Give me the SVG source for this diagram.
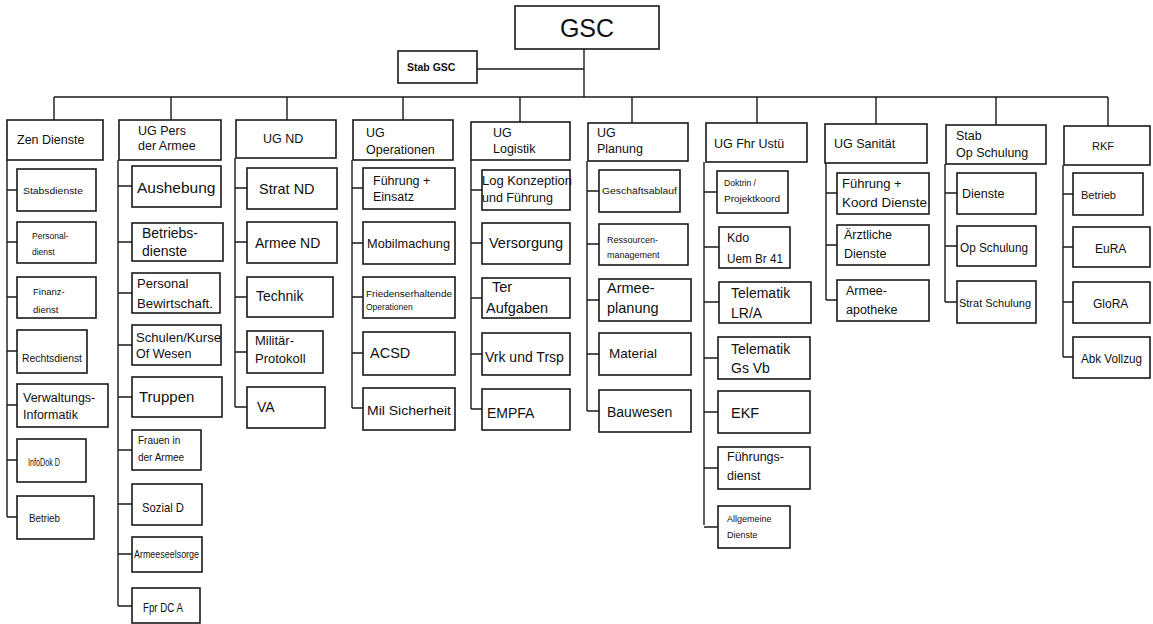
<svg xmlns="http://www.w3.org/2000/svg" width="1153" height="624" viewBox="0 0 1153 624">
<style>
rect{fill:#fff;stroke:#1a1a1a;stroke-width:1.6}
#connectors path{fill:none;stroke:#1a1a1a;stroke-width:1.4}
text{font-family:"Liberation Sans",Arial,sans-serif;fill:#111;font-size:12.5px}
.b{font-size:14.5px}
.s{font-size:9.5px}
</style>
<rect x="0" y="0" width="1153" height="624" style="stroke:none;fill:#fff"/>
<g id="connectors">
<path d="M584 49V97M477 69H584M54 97H1108"/>
<path d="M54 97V120M171 97V120M287 97V120M403 97V120M520 97V122M632 97V123M757 97V123M876 97V124M996 97V125M1108 97V126"/>
<path d="M7 160V517M7 190H17M7 242H17M7 297H17M7 351H17M7 405H17M7 460H17M7 517H17"/>
<path d="M118 160V606M118 186H132M118 242H132M118 293H132M118 345H132M118 397H132M118 450H132M118 504H132M118 554H132M118 606H132"/>
<path d="M235 158V407M235 188H247M235 242H247M235 297H247M235 352H247M235 407H247"/>
<path d="M352 160V408M352 188H363M352 243H363M352 297H363M352 353H363M352 408H363"/>
<path d="M471 160V409M471 190H482M471 243H482M471 298H482M471 354H482M471 409H482"/>
<path d="M587 161V411M587 191H599M587 244H599M587 300H599M587 354H599M587 411H599"/>
<path d="M704 162V525M704 192H717M704 247H719M704 302H719M704 358H718M704 412H718M704 468H718M704 527H718"/>
<path d="M826 163V300M826 193H837M826 245H837M826 300H837"/>
<path d="M945 164V302M945 193H957M945 246H957M945 302H957"/>
<path d="M1063 165V357M1063 194H1073M1063 247H1073M1063 302H1073M1063 357H1073"/>
</g>
<g id="gsc"><rect x="515" y="6" width="144" height="43"/><text x="587" y="37" text-anchor="middle" style="font-size:25px">GSC</text></g>
<g id="stab-gsc"><rect x="398" y="51" width="79" height="32"/><text x="407" y="71" style="font-size:10.5px;font-weight:bold">Stab GSC</text></g>

<g id="zen-dienste"><rect x="7" y="120" width="96" height="40"/><text x="17" y="144">Zen Dienste</text></g>
<g id="stabsdienste"><rect x="17" y="169" width="79" height="42"/><text x="23" y="194" class="s" textLength="60" lengthAdjust="spacingAndGlyphs">Stabsdienste</text></g>
<g id="personaldienst"><rect x="17" y="222" width="79" height="41"/><text x="32" y="239" style="font-size:8.5px">Personal-</text><text x="32" y="255" style="font-size:8.5px">dienst</text></g>
<g id="finanzdienst"><rect x="17" y="277" width="79" height="41"/><text x="33" y="295" style="font-size:9.5px">Finanz-</text><text x="33" y="313" style="font-size:9.5px">dienst</text></g>
<g id="rechtsdienst"><rect x="17" y="330" width="70" height="43"/><text x="22" y="362" style="font-size:11px" textLength="60" lengthAdjust="spacingAndGlyphs">Rechtsdienst</text></g>
<g id="verwaltungsinformatik"><rect x="17" y="384" width="91" height="43"/><text x="23" y="402">Verwaltungs-</text><text x="23" y="419">Informatik</text></g>
<g id="infodok"><rect x="17" y="439" width="69" height="43"/><text x="28" y="466" style="font-size:10px" textLength="32" lengthAdjust="spacingAndGlyphs">InfoDok D</text></g>
<g id="betrieb-zd"><rect x="17" y="496" width="77" height="43"/><text x="29" y="522" style="font-size:10.5px" textLength="31" lengthAdjust="spacingAndGlyphs">Betrieb</text></g>

<g id="ug-pers"><rect x="119" y="120" width="102" height="40"/><text x="138" y="135">UG Pers</text><text x="138" y="150">der Armee</text></g>
<g id="aushebung"><rect x="132" y="166" width="89" height="41"/><text x="137" y="193" style="font-size:15.5px">Aushebung</text></g>
<g id="betriebsdienste"><rect x="132" y="223" width="91" height="38"/><text x="142" y="238" style="font-size:14px">Betriebs-</text><text x="142" y="256" style="font-size:14px">dienste</text></g>
<g id="personal-bew"><rect x="132" y="273" width="88" height="40"/><text x="137" y="288" style="font-size:13px">Personal</text><text x="137" y="308" style="font-size:13px" textLength="76" lengthAdjust="spacingAndGlyphs">Bewirtschaft.</text></g>
<g id="schulen"><rect x="132" y="325" width="89" height="40"/><text x="136" y="342" textLength="85" lengthAdjust="spacingAndGlyphs">Schulen/Kurse</text><text x="136" y="358">Of Wesen</text></g>
<g id="truppen"><rect x="132" y="377" width="90" height="40"/><text x="139" y="402" style="font-size:15px">Truppen</text></g>
<g id="frauen"><rect x="132" y="430" width="69" height="40"/><text x="138" y="444" style="font-size:10px">Frauen in</text><text x="138" y="461" style="font-size:10px">der Armee</text></g>
<g id="sozial"><rect x="132" y="484" width="70" height="41"/><text x="142" y="512" style="font-size:13px" textLength="42" lengthAdjust="spacingAndGlyphs">Sozial D</text></g>
<g id="armeeseelsorge"><rect x="132" y="537" width="70" height="35"/><text x="134" y="558" style="font-size:10.5px" textLength="65" lengthAdjust="spacingAndGlyphs">Armeeseelsorge</text></g>
<g id="fpr"><rect x="132" y="588" width="68" height="35"/><text x="143" y="612" style="font-size:12px" textLength="40" lengthAdjust="spacingAndGlyphs">Fpr DC A</text></g>

<g id="ug-nd"><rect x="236" y="120" width="100" height="38"/><text x="263" y="143">UG ND</text></g>
<g id="strat-nd"><rect x="247" y="168" width="90" height="41"/><text x="259" y="194" class="b">Strat ND</text></g>
<g id="armee-nd"><rect x="247" y="222" width="90" height="41"/><text x="255" y="248" style="font-size:14px">Armee ND</text></g>
<g id="technik"><rect x="247" y="277" width="86" height="40"/><text x="256" y="301" style="font-size:14px">Technik</text></g>
<g id="protokoll"><rect x="247" y="331" width="76" height="42"/><text x="255" y="345" style="font-size:13px">Militär-</text><text x="255" y="363" style="font-size:13px">Protokoll</text></g>
<g id="va"><rect x="247" y="387" width="78" height="41"/><text x="257" y="412" style="font-size:14px">VA</text></g>

<g id="ug-op"><rect x="353" y="120" width="100" height="40"/><text x="366" y="137">UG</text><text x="366" y="154">Operationen</text></g>
<g id="fuehrung-einsatz"><rect x="363" y="168" width="92" height="41"/><text x="373" y="185">Führung +</text><text x="373" y="201">Einsatz</text></g>
<g id="mobilmachung"><rect x="363" y="222" width="92" height="42"/><text x="367" y="248" style="font-size:13.5px" textLength="83" lengthAdjust="spacingAndGlyphs">Mobilmachung</text></g>
<g id="frieden"><rect x="363" y="277" width="92" height="41"/><text x="366" y="297" style="font-size:8.5px" textLength="86" lengthAdjust="spacingAndGlyphs">Friedenserhaltende</text><text x="366" y="310" style="font-size:8.5px">Operationen</text></g>
<g id="acsd"><rect x="363" y="332" width="92" height="43"/><text x="370" y="358" class="b">ACSD</text></g>
<g id="mil-sicherheit"><rect x="363" y="388" width="92" height="42"/><text x="367" y="415" style="font-size:13.5px" textLength="84" lengthAdjust="spacingAndGlyphs">Mil Sicherheit</text></g>

<g id="ug-log"><rect x="471" y="122" width="99" height="38"/><text x="493" y="137">UG</text><text x="493" y="153">Logistik</text></g>
<g id="log-konzeption"><rect x="482" y="170" width="88" height="40"/><text x="482" y="185" textLength="90" lengthAdjust="spacingAndGlyphs">Log Konzeption</text><text x="482" y="202">und Führung</text></g>
<g id="versorgung"><rect x="482" y="223" width="88" height="41"/><text x="489" y="248" class="b">Versorgung</text></g>
<g id="ter-aufgaben"><rect x="482" y="278" width="88" height="40"/><text x="492" y="292" class="b">Ter</text><text x="486" y="313" class="b">Aufgaben</text></g>
<g id="vrk-trsp"><rect x="482" y="333" width="88" height="42"/><text x="485" y="362" style="font-size:14px">Vrk und Trsp</text></g>
<g id="empfa"><rect x="482" y="389" width="88" height="41"/><text x="487" y="418" style="font-size:14px">EMPFA</text></g>

<g id="ug-planung"><rect x="588" y="123" width="100" height="38"/><text x="597" y="137">UG</text><text x="597" y="153">Planung</text></g>
<g id="geschaeftsablauf"><rect x="599" y="170" width="81" height="42"/><text x="602" y="194" style="font-size:9.5px" textLength="75" lengthAdjust="spacingAndGlyphs">Geschäftsablauf</text></g>
<g id="ressourcen"><rect x="599" y="224" width="89" height="41"/><text x="607" y="243" style="font-size:9px">Ressourcen-</text><text x="607" y="258" style="font-size:9px">management</text></g>
<g id="armeeplanung"><rect x="599" y="279" width="92" height="42"/><text x="607" y="293" class="b">Armee-</text><text x="607" y="313" class="b">planung</text></g>
<g id="material"><rect x="599" y="333" width="92" height="42"/><text x="609" y="358" style="font-size:13.5px">Material</text></g>
<g id="bauwesen"><rect x="599" y="390" width="92" height="42"/><text x="607" y="417" style="font-size:14px">Bauwesen</text></g>

<g id="ug-fhr"><rect x="706" y="123" width="101" height="39"/><text x="714" y="148">UG Fhr Ustü</text></g>
<g id="doktrin"><rect x="717" y="171" width="71" height="42"/><text x="724" y="186" style="font-size:9px" textLength="32" lengthAdjust="spacingAndGlyphs">Doktrin /</text><text x="724" y="202" style="font-size:9px" textLength="56" lengthAdjust="spacingAndGlyphs">Projektkoord</text></g>
<g id="kdo"><rect x="719" y="227" width="71" height="41"/><text x="727" y="242" style="font-size:12.5px">Kdo</text><text x="727" y="263" style="font-size:12.5px" textLength="56" lengthAdjust="spacingAndGlyphs">Uem Br 41</text></g>
<g id="telematik-lra"><rect x="719" y="282" width="92" height="41"/><text x="731" y="298" style="font-size:14px">Telematik</text><text x="731" y="318" style="font-size:14px">LR/A</text></g>
<g id="telematik-gs"><rect x="718" y="337" width="92" height="42"/><text x="731" y="354" style="font-size:14px">Telematik</text><text x="731" y="373" style="font-size:14px">Gs Vb</text></g>
<g id="ekf"><rect x="718" y="391" width="92" height="42"/><text x="731" y="418" class="b">EKF</text></g>
<g id="fuehrungsdienst"><rect x="718" y="447" width="92" height="42"/><text x="727" y="461">Führungs-</text><text x="727" y="480">dienst</text></g>
<g id="allgemeine"><rect x="718" y="506" width="72" height="42"/><text x="727" y="522" style="font-size:9px">Allgemeine</text><text x="727" y="538" style="font-size:9px">Dienste</text></g>

<g id="ug-sanitaet"><rect x="825" y="124" width="102" height="39"/><text x="834" y="148">UG Sanität</text></g>
<g id="fuehrung-koord"><rect x="837" y="173" width="92" height="41"/><text x="842" y="188" style="font-size:13px">Führung +</text><text x="842" y="207" style="font-size:13px" textLength="85" lengthAdjust="spacingAndGlyphs">Koord Dienste</text></g>
<g id="aerztliche"><rect x="837" y="225" width="92" height="40"/><text x="844" y="239">Ärztliche</text><text x="844" y="258">Dienste</text></g>
<g id="apotheke"><rect x="837" y="280" width="92" height="41"/><text x="846" y="295">Armee-</text><text x="846" y="314">apotheke</text></g>

<g id="stab-op"><rect x="946" y="125" width="100" height="39"/><text x="956" y="140">Stab</text><text x="956" y="157">Op Schulung</text></g>
<g id="dienste"><rect x="957" y="173" width="79" height="41"/><text x="962" y="198">Dienste</text></g>
<g id="op-schulung"><rect x="957" y="226" width="79" height="40"/><text x="960" y="252" style="font-size:12px" textLength="68" lengthAdjust="spacingAndGlyphs">Op Schulung</text></g>
<g id="strat-schulung"><rect x="957" y="281" width="79" height="42"/><text x="959" y="307" style="font-size:11.5px" textLength="72" lengthAdjust="spacingAndGlyphs">Strat Schulung</text></g>

<g id="rkf"><rect x="1064" y="126" width="86" height="39"/><text x="1092" y="150" style="font-size:11px">RKF</text></g>
<g id="betrieb-rkf"><rect x="1073" y="173" width="70" height="42"/><text x="1081" y="199" style="font-size:11px" textLength="35" lengthAdjust="spacingAndGlyphs">Betrieb</text></g>
<g id="eura"><rect x="1073" y="227" width="77" height="40"/><text x="1095" y="253" style="font-size:12px">EuRA</text></g>
<g id="glora"><rect x="1073" y="282" width="77" height="41"/><text x="1093" y="308" style="font-size:12px">GloRA</text></g>
<g id="abk-vollzug"><rect x="1073" y="337" width="77" height="41"/><text x="1081" y="363" style="font-size:12px" textLength="61" lengthAdjust="spacingAndGlyphs">Abk Vollzug</text></g>
</svg>
